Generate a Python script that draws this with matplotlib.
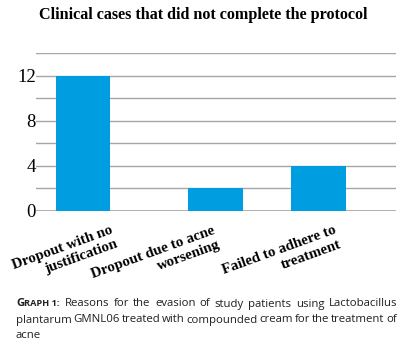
import matplotlib
matplotlib.use("Agg")
import matplotlib.pyplot as plt
import matplotlib.transforms as mtransforms

# ---- data ----
categories = ["Dropout with no\njustification",
              "Dropout due to acne\nworsening",
              "Failed to adhere to\ntreatment"]
values = [12, 2, 4]
positions = [0.0, 1.0, 1.777]
yticks = [0, 4, 8, 12]
title = "Clinical cases that did not complete the protocol"
caption_lines = [
    "Reasons for the evasion of study patients using Lactobacillus",
    "plantarum GMNL06 treated with compounded cream for the treatment of",
    "acne",
]

BLUE = "#009DE0"
GRID = "#A6A6A6"
SERIF = ["Liberation Serif", "DejaVu Serif"]
SANS = ["Open Sans", "DejaVu Sans"]

fig = plt.figure(figsize=(4.13, 3.58), dpi=100)
W, H = 413, 358
ax = fig.add_axes([36 / W, 1 - 210.7 / H, 360 / W, (210.7 - 53) / H])

ax.bar(positions, values, width=0.413, color=BLUE, zorder=3)
ax.set_xlim(-0.355, 2.362)
ax.set_ylim(0, 14)
ax.set_yticks(yticks)
ax.set_yticks(range(2, 15, 4), minor=True)
ax.yaxis.grid(True, which="both", color=GRID, linewidth=1.0, zorder=0)
ax.set_yticklabels([str(v) for v in yticks], family=SERIF, fontsize=13.5)
for lbl in ax.get_yticklabels():
    lbl.set_transform(lbl.get_transform() +
                      mtransforms.ScaledTranslation(0, -2 / 100, fig.dpi_scale_trans))
ax.tick_params(axis="y", which="both", length=0, pad=0)
ax.tick_params(axis="x", length=0)
ax.set_xticks([])
for s in ax.spines.values():
    s.set_visible(False)
ax.axhline(0, color=GRID, linewidth=1.2, zorder=2)

# category labels, rotated
label_dx = [-18, -60, -37]   # pixel offsets of label centres
for p, lab, dx in zip(positions, categories, label_dx):
    tr = mtransforms.blended_transform_factory(ax.transData, ax.transAxes) + \
        mtransforms.ScaledTranslation(dx / 100, -13 / 100, fig.dpi_scale_trans)
    ax.text(p, 0, lab, transform=tr, rotation=20, ha="center", va="top",
            multialignment="right", family=SERIF, fontweight="bold",
            fontsize=10.8, linespacing=1.2)

fig.text(203 / W, 1 - 15 / H, title, ha="center", va="center",
         family=SERIF, fontweight="bold", fontsize=11.6)

# caption with small-caps "GRAPH 1:" and justified lines
fig.canvas.draw()
r = fig.canvas.get_renderer()
left_px, right_px = 16, 397
ys = [304, 320, 336]
cap_color = "#231F20"
fs = 8.2

def width_of(t):
    bb = t.get_window_extent(renderer=r)
    return bb.width

# line 1 prefix
x = left_px
t = fig.text(x / W, 1 - ys[0] / H, "G", ha="left", va="center", family=SANS,
             fontweight="bold", fontsize=fs, color=cap_color)
x += width_of(t)
t = fig.text(x / W, 1 - ys[0] / H, "RAPH 1:", ha="left", va="center", family=SANS,
             fontweight="bold", fontsize=fs * 0.8, color=cap_color)
x += width_of(t) + 5

for i, line in enumerate(caption_lines):
    start = x if i == 0 else left_px
    y = 1 - ys[i] / H
    words = line.split(" ")
    justify = i < len(caption_lines) - 1
    texts = []
    for w_ in words:
        tt = fig.text(0, y, w_, ha="left", va="center", family=SANS,
                      fontsize=fs, color=cap_color)
        texts.append(tt)
    widths = [width_of(tt) for tt in texts]
    if justify and len(words) > 1:
        gap = (right_px - start - sum(widths)) / (len(words) - 1)
    else:
        gap = 3.0
    cx = start
    for tt, wd in zip(texts, widths):
        tt.set_x(cx / W)
        cx += wd + gap

fig.savefig("out.png", dpi=100)
